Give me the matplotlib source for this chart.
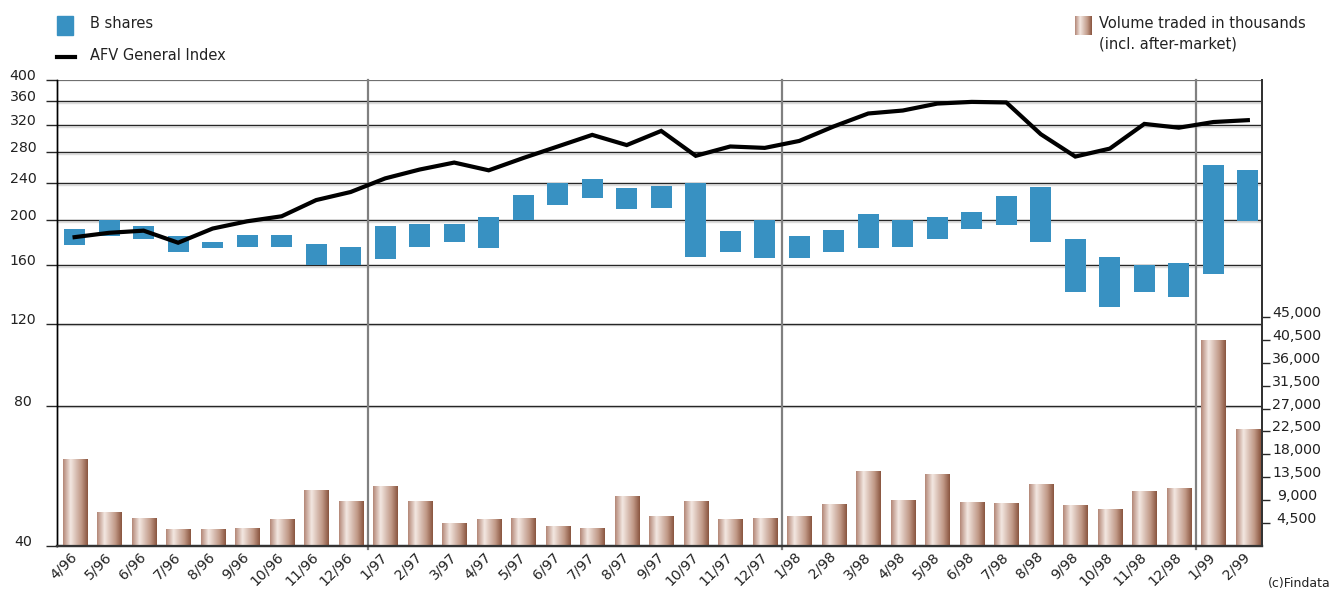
import numpy as np
import matplotlib.pyplot as plt
import matplotlib.patheffects as pe
from matplotlib.colors import LinearSegmentedColormap
from matplotlib.patches import Rectangle
from matplotlib.lines import Line2D

# --- data ---
months = ['4/96', '5/96', '6/96', '7/96', '8/96', '9/96', '10/96', '11/96', '12/96',
          '1/97', '2/97', '3/97', '4/97', '5/97', '6/97', '7/97', '8/97', '9/97',
          '10/97', '11/97', '12/97',
          '1/98', '2/98', '3/98', '4/98', '5/98', '6/98', '7/98', '8/98', '9/98',
          '10/98', '11/98', '12/98',
          '1/99', '2/99']

b_low = [177, 185, 182, 171, 174, 175, 175, 160, 160,
         165, 175, 180, 174, 200, 216, 223, 211, 213, 167, 171, 166,
         166, 171, 174, 175, 182, 192, 195, 180, 140, 130, 140, 137,
         153, 199]
b_high = [192, 200, 194, 185, 180, 186, 186, 178, 175,
          194, 196, 196, 203, 227, 240, 245, 235, 237, 240, 190, 200,
          185, 191, 206, 200, 203, 208, 225, 236, 182, 167, 160, 162,
          263, 256]

afv_index = [184, 188, 190, 179, 192, 199, 204, 221, 230,
             246, 257, 266, 256, 272, 288, 305, 290, 311, 275, 288, 286,
             296, 318, 339, 344, 356, 359, 358, 306, 274, 285, 322, 316,
             325, 328]

volume = [17000, 6600, 5600, 3300, 3300, 3500, 5400, 11100, 8800,
          11700, 8800, 4600, 5400, 5600, 4000, 3600, 9900, 5800, 8800, 5400, 5600,
          5800, 8200, 14700, 9000, 14100, 8600, 8400, 12100, 8000, 7200, 10900, 11300,
          40400, 22900]

left_ticks = [40, 80, 120, 160, 200, 240, 280, 320, 360, 400]
right_ticks = [4500, 9000, 13500, 18000, 22500, 27000, 31500, 36000, 40500, 45000]
year_breaks = [8.5, 20.5, 32.5]

BLUE = '#3891c2'
W, H = 1333, 589
plt.rcParams['font.family'] = 'DejaVu Sans'

fig = plt.figure(figsize=(W / 100, H / 100), dpi=100)


def fx(px):
    return px / W


def fy(py):
    return 1 - py / H


ax = fig.add_axes([fx(57), fy(546), fx(1262) - fx(57), fy(80) - fy(546)])
ax2 = ax.twinx()

x = np.arange(len(months))

# grid lines with a faint shadow underneath
shadow = [pe.SimpleLineShadow(offset=(0, -1.0), shadow_color='#dcdcdc', alpha=1), pe.Normal()]
for v in left_ticks[1:-1]:
    ax.axhline(v, color='#262626', lw=1.0, zorder=1, path_effects=shadow)
ax.axhline(400, color='#707070', lw=1.6, zorder=1)
for xb in year_breaks:
    ax.axvline(xb, ymin=-0.006, ymax=1, color='#808080', lw=1.6, zorder=1, clip_on=False)

# B shares floating bars and index line
ax.bar(x, np.array(b_high) - np.array(b_low), bottom=b_low, width=0.61,
       color=BLUE, zorder=3)
ax.plot(x, afv_index, color='black', lw=3, zorder=4, solid_joinstyle='miter')

ax.set_yscale('log')
ax.set_ylim(40, 400)
ax.set_xlim(-0.51, 34.41)
ax.set_yticks(left_ticks)
ax.set_yticklabels([str(v) for v in left_ticks])
ax.yaxis.set_minor_locator(plt.NullLocator())
ax.tick_params(axis='y', length=8, width=1, color='#262626', pad=16.5, labelsize=10.2,
               labelcolor='#222222')
for lab in ax.get_yticklabels():
    lab.set_ha('center')
    lab.set_va('baseline')
ax.set_xticks(x)
ax.set_xticklabels(months, rotation=45, ha='right', va='center', rotation_mode='anchor')
ax.tick_params(axis='x', length=0, pad=6, labelsize=10.2, labelcolor='#222222')

# volume bars with a cylinder-like gradient
cmap = LinearSegmentedColormap.from_list('vol', [(0, '#b48878'), (0.3, '#f3e7e1'),
                                                 (0.75, '#bf9785'), (1, '#8a5640')])
grad = np.linspace(0, 1, 64).reshape(1, -1)
bars = ax2.bar(x, volume, width=0.7, color='none', edgecolor='none', zorder=2)
for b in bars:
    im = ax2.imshow(grad, cmap=cmap, aspect='auto', zorder=2,
                    extent=[b.get_x(), b.get_x() + b.get_width(), 0, b.get_height()])
    im.set_clip_path(b)
ax2.set_xlim(-0.51, 34.41)
ax2.set_ylim(0, 91570)
ax2.set_yticks(right_ticks)
ax2.set_yticklabels([f'{v:,}' for v in right_ticks])
ax2.tick_params(axis='y', length=6, width=1, color='#262626', pad=19, labelsize=10.2,
                labelcolor='#222222')
for lab in ax2.get_yticklabels():
    lab.set_ha('center')
    lab.set_va('baseline')

for a in (ax, ax2):
    a.spines['top'].set_visible(False)
    a.spines['left'].set_color('black')
    a.spines['left'].set_linewidth(1)
    a.spines['bottom'].set_color('#333333')
    a.spines['bottom'].set_linewidth(1.6)
    a.spines['right'].set_color('#333333')
    a.spines['right'].set_linewidth(1.4)

# legends drawn by hand
fig.patches.append(Rectangle((fx(57), fy(35)), fx(16), fy(16) - fy(35),
                             transform=fig.transFigure, color=BLUE))
fig.text(fx(90), fy(24), 'B shares', fontsize=10.5, va='center', color='#222222')
fig.lines.append(Line2D([fx(57), fx(75)], [fy(57), fy(57)], transform=fig.transFigure,
                        color='black', lw=3))
fig.text(fx(90), fy(56), 'AFV General Index', fontsize=10.5, va='center', color='#222222')

leg_ax = fig.add_axes([fx(1075), fy(35), fx(17), fy(16) - fy(35)])
leg_ax.imshow(grad, cmap=cmap, aspect='auto')
leg_ax.axis('off')
fig.text(fx(1099), fy(24), 'Volume traded in thousands', fontsize=10.5, va='center',
         color='#222222')
fig.text(fx(1099), fy(44), '(incl. after-market)', fontsize=10.5, va='center',
         color='#222222')
fig.text(fx(1331), fy(583), '(c)Findata', fontsize=9, ha='right', va='center',
         color='#222222')

fig.savefig('out.png', dpi=100)
